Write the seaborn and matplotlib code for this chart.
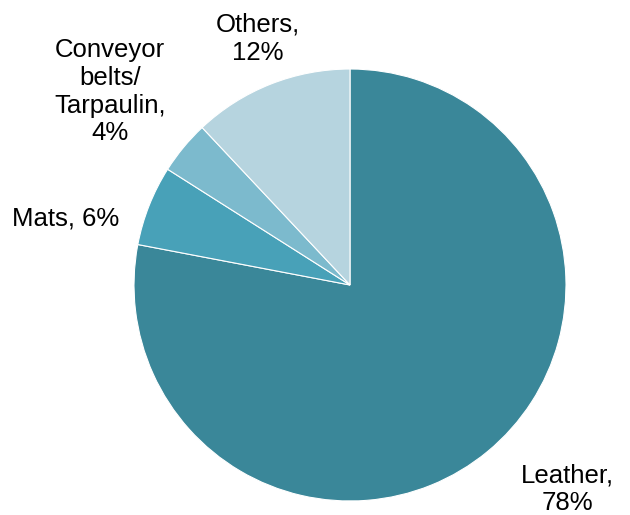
import matplotlib.pyplot as plt
import seaborn as sns

# 数据
categories = ["Leather", "Mats", "Conveyor belts/\nTarpaulin", "Others"]
shares = [78, 6, 4, 12]
label_texts = ["Leather,\n78%", "Mats, 6%", "Conveyor\nbelts/\nTarpaulin,\n4%", "Others,\n12%"]
colors = ["#3A8799", "#48A1B8", "#7CBACD", "#B6D4DF"]

sns.set_theme(style="white")
plt.rcParams['font.family'] = ['Liberation Sans', 'DejaVu Sans']

fig = plt.figure(figsize=(6.3, 5.15), dpi=100)
ax = fig.add_axes([0.2127, 0.0272, 0.6857, 0.8388])

ax.pie(shares, colors=colors, startangle=90, counterclock=False,
       wedgeprops=dict(edgecolor="white", linewidth=0.8))
ax.set_xlim(-1, 1)
ax.set_ylim(-1, 1)
ax.set_aspect("equal")

# 标签位置（以半径为单位）
label_pos = [(1.009, -0.945), (-1.315, 0.31), (-1.111, 0.895), (-0.426, 1.14)]
for txt, (x, y) in zip(label_texts, label_pos):
    ax.text(x, y, txt, ha="center", va="center", fontsize=18.5,
            color="black", linespacing=1.2, clip_on=False)

fig.savefig("out.png", dpi=100)
